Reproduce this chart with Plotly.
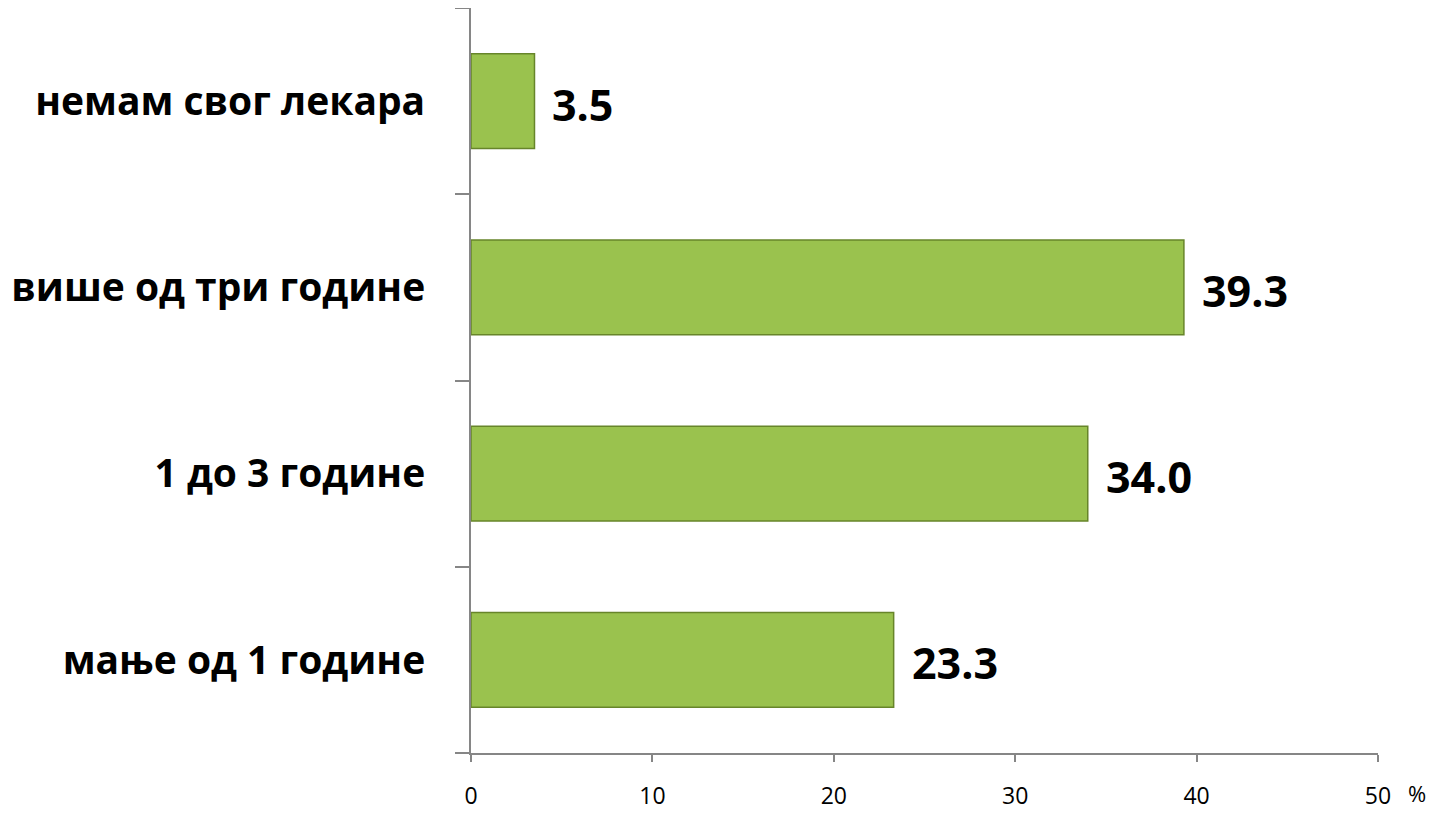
import plotly.graph_objects as go

categories = ["мање од 1 године", "1 до 3 године", "више од три године", "немам свог лекара"]
values = [23.3, 34.0, 39.3, 3.5]
x_ticks = [0, 10, 20, 30, 40, 50]

FONT = "Open Sans"
AXIS_COLOR = "#868686"

fig = go.Figure()
fig.add_trace(go.Bar(
    x=values,
    y=categories,
    orientation="h",
    marker=dict(color="#9AC24E", line=dict(color="#67852A", width=1.5)),
    hoverinfo="x+y",
))

for c, v in zip(categories, values):
    fig.add_annotation(
        x=v, y=c, xref="x", yref="y",
        text=f"<b>{v:.1f}</b>",
        showarrow=False, xanchor="left", yanchor="middle",
        xshift=16, yshift=-3,
        font=dict(family=FONT, size=43, color="black"),
    )

fig.add_annotation(
    x=1.043, y=-0.077, xref="paper", yref="paper",
    text="%", showarrow=False, xanchor="center", yanchor="bottom",
    font=dict(family=FONT, size=22, color="black"),
)

fig.update_layout(
    width=1432, height=802,
    margin=dict(l=463, r=62, t=0, b=57),
    paper_bgcolor="white", plot_bgcolor="white",
    bargap=0.49,
    showlegend=False,
    font=dict(family=FONT, color="black"),
    xaxis=dict(
        range=[0, 50], tickvals=x_ticks, ticktext=[str(t) for t in x_ticks],
        showgrid=False, zeroline=False,
        showline=True, linecolor=AXIS_COLOR, linewidth=2,
        ticks="outside", ticklen=7, tickwidth=2, tickcolor=AXIS_COLOR,
        tickfont=dict(family=FONT, size=23, color="black"),
        ticklabelstandoff=14,
    ),
    yaxis=dict(
        categoryorder="array", categoryarray=categories,
        showgrid=False, zeroline=False,
        showline=True, linecolor=AXIS_COLOR, linewidth=2,
        ticks="outside", ticklen=14, tickwidth=2, tickcolor=AXIS_COLOR,
        tickson="boundaries",
        tickfont=dict(family=FONT, size=39, color="black", weight="bold"),
        ticklabelstandoff=36,
    ),
)

fig.write_html("out.html")
